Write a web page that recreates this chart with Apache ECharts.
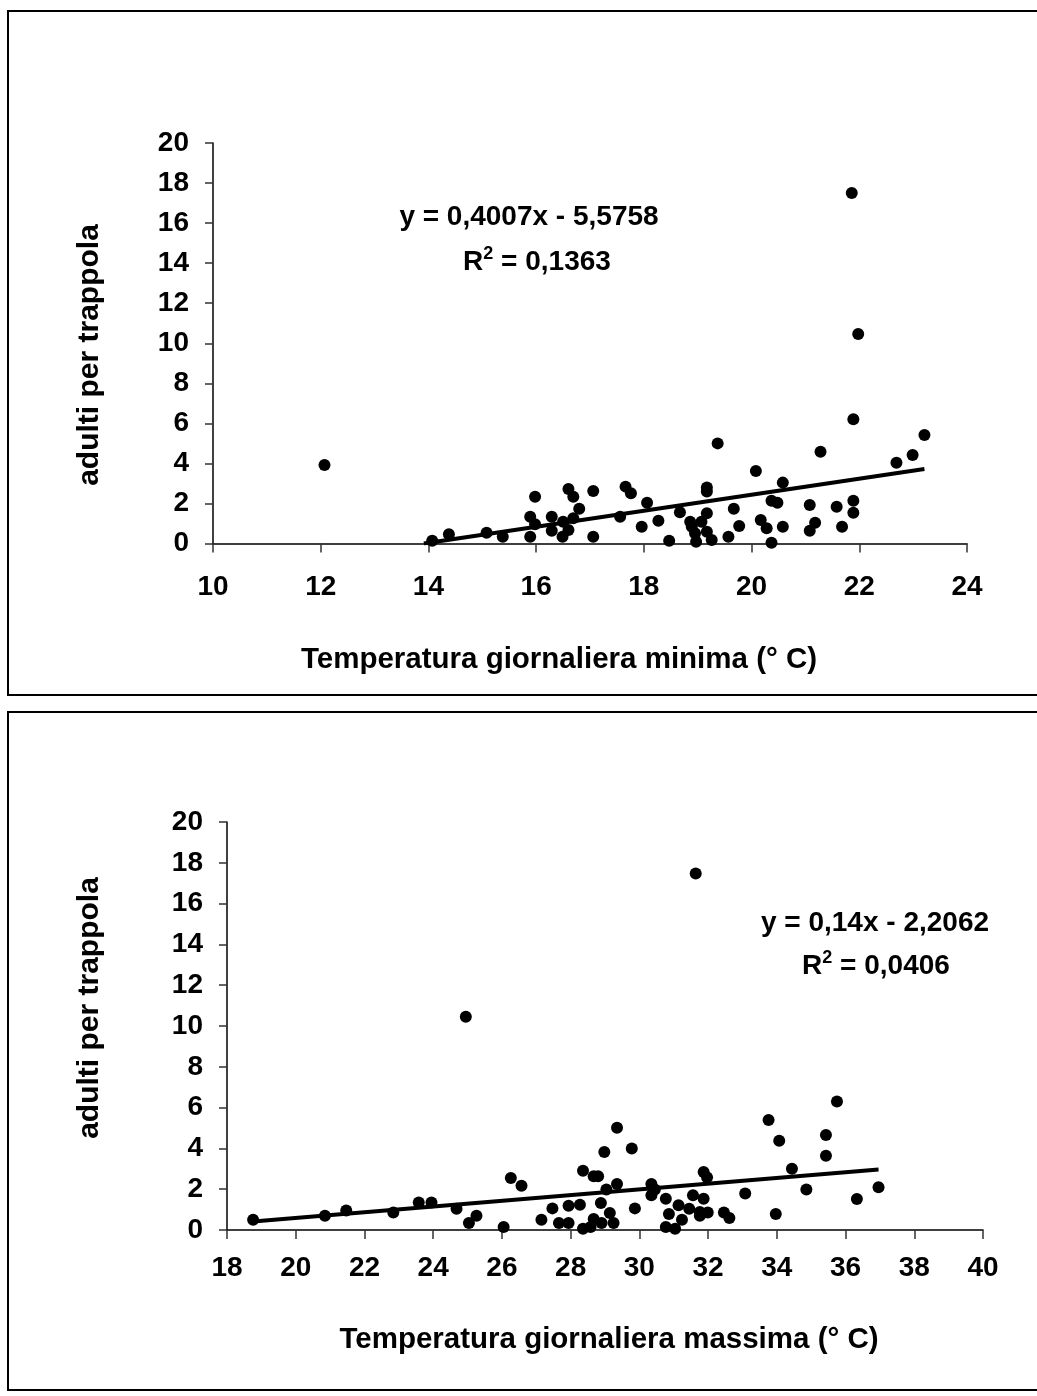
<!DOCTYPE html>
<html>
<head>
<meta charset="utf-8">
<script src="https://cdn.jsdelivr.net/npm/echarts@6/dist/echarts.min.js"></script>
<style>
html,body{margin:0;padding:0;background:#fff;}
#c{width:1037px;height:1396px;}
</style>
</head>
<body>
<div id="c"></div>
<script>
// ---- data ----
const minTemp = [12.07,14.07,14.38,15.08,15.38,15.89,15.89,15.98,15.98,16.29,16.29,16.49,16.50,16.60,16.60,16.69,16.69,16.80,17.06,17.06,17.56,17.66,17.76,17.96,18.06,18.27,18.47,18.67,18.86,18.89,18.95,18.97,19.07,19.17,19.17,19.17,19.17,19.26,19.37,19.57,19.67,19.77,20.08,20.17,20.28,20.37,20.37,20.48,20.58,20.58,21.08,21.08,21.18,21.28,21.58,21.68,21.86,21.89,21.89,21.89,21.98,22.69,22.99,23.21];
const minAdults = [3.92,0.14,0.46,0.54,0.34,0.34,1.34,2.34,0.96,1.34,0.64,0.34,1.09,0.67,2.72,2.34,1.26,1.74,2.62,0.34,1.34,2.84,2.51,0.84,2.04,1.14,0.14,1.56,1.09,0.84,0.51,0.09,1.09,2.80,2.60,1.51,0.59,0.17,5.00,0.34,1.74,0.87,3.62,1.17,0.76,2.14,0.04,2.04,3.04,0.84,1.92,0.64,1.04,4.58,1.84,0.84,17.50,6.20,2.14,1.54,10.46,4.03,4.42,5.42];

const maxTemp = [18.76,20.85,21.47,22.84,23.58,23.95,24.68,24.95,25.04,25.26,26.05,26.26,26.57,27.15,27.47,27.66,27.94,27.94,28.27,28.36,28.36,28.58,28.67,28.67,28.80,28.90,28.88,28.98,29.04,29.14,29.25,29.35,29.35,29.78,29.87,30.35,30.35,30.45,30.77,30.77,30.86,31.04,31.14,31.24,31.45,31.56,31.64,31.76,31.76,31.87,31.97,31.87,31.99,32.46,32.62,33.08,33.76,33.97,34.07,34.44,34.86,35.43,35.43,35.75,36.33,36.96];
const maxAdults = [0.50,0.70,0.96,0.86,1.35,1.35,1.04,10.45,0.34,0.70,0.15,2.55,2.17,0.50,1.06,0.34,0.34,1.19,1.24,2.91,0.06,0.15,0.54,2.63,2.63,0.34,1.32,3.82,1.98,0.83,0.34,5.01,2.25,4.00,1.06,2.25,1.70,1.98,1.53,0.15,0.78,0.06,1.21,0.50,1.04,1.70,17.47,0.88,0.70,2.84,2.58,1.53,0.86,0.86,0.59,1.79,5.39,0.78,4.38,3.00,1.98,4.66,3.64,6.30,1.52,2.09];

// trend lines (slope, intercept) as given in the chart
const minTrend = [0.4007, -5.5758];
const maxTrend = [0.14, -2.2062];

const xTicksMin = [10, 24, 2];
const xTicksMax = [18, 40, 2];
const yTicks = [0, 20, 2];

const yTitle = 'adulti per trappola';
const xTitleMin = 'Temperatura giornaliera minima (° C)';
const xTitleMax = 'Temperatura giornaliera massima (° C)';
const eqMin = ['y = 0,4007x - 5,5758', '0,1363'];
const eqMax = ['y = 0,14x - 2,2062', '0,0406'];

// ---- build ----
function pairs(xs, ys){ return xs.map((x,i)=>[x, ys[i]]); }
function trend(xs, t){
  let x0 = Math.min(...xs), x1 = Math.max(...xs);
  const xz = -t[1]/t[0];
  if (x0 < xz) x0 = xz;
  return [[x0, t[0]*x0+t[1]], [x1, t[0]*x1+t[1]]];
}

const FONT = '"Liberation Sans", Arial, sans-serif';
const lbl = {fontFamily: FONT, fontWeight: 'bold', fontSize: 28, color: '#000'};

function xAx(idx, t, margin){
  return {
    type: 'value', gridIndex: idx, min: t[0], max: t[1], interval: t[2],
    splitLine: {show: false},
    axisLine: {show: true, onZero: false, lineStyle: {color: '#000', width: 1.5}},
    axisTick: {show: true, inside: false, length: 9, lineStyle: {color: '#333', width: 1.5}},
    axisLabel: Object.assign({margin: margin}, lbl)
  };
}
function yAx(idx, t){
  return {
    type: 'value', gridIndex: idx, min: t[0], max: t[1], interval: t[2],
    splitLine: {show: false},
    axisLine: {show: true, onZero: false, lineStyle: {color: '#000', width: 1.5}},
    axisTick: {show: true, inside: false, length: 8, lineStyle: {color: '#333', width: 1.5}},
    axisLabel: Object.assign({margin: 24}, lbl)
  };
}

const chart = echarts.init(document.getElementById('c'), null, {renderer: 'canvas'});
const rich = {
  b: {fontFamily: FONT, fontWeight: 'bold', fontSize: 28, color: '#000'},
  s: {fontFamily: FONT, fontWeight: 'bold', fontSize: 18, color: '#000', verticalAlign: 'top', padding: [0,0,16,0]}
};
function txt(x, y, s, rot, size){
  return {
    type: 'text', x: x, y: y, rotation: rot || 0,
    style: {text: s, fontFamily: FONT, fontWeight: 'bold', fontSize: size || 28, fill: '#000', align: 'center', verticalAlign: 'middle'}
  };
}
const dot = {color: '#000', opacity: 1};

chart.setOption({
  animation: false,
  backgroundColor: '#fff',
  grid: [
    {left: 213, top: 143, width: 754, height: 400.5},
    {left: 227, top: 822, width: 756, height: 408}
  ],
  xAxis: [xAx(0, xTicksMin, 30), xAx(1, xTicksMax, 24)],
  yAxis: [yAx(0, yTicks), yAx(1, yTicks)],
  series: [
    {type: 'line', xAxisIndex: 0, yAxisIndex: 0, data: trend(minTemp, minTrend), symbol: 'none',
     lineStyle: {color: '#000', width: 4}, z: 2},
    {type: 'scatter', xAxisIndex: 0, yAxisIndex: 0, data: pairs(minTemp, minAdults), symbol: 'circle', symbolSize: 12,
     itemStyle: dot, z: 3},
    {type: 'line', xAxisIndex: 1, yAxisIndex: 1, data: trend(maxTemp, maxTrend), symbol: 'none',
     lineStyle: {color: '#000', width: 4}, z: 2},
    {type: 'scatter', xAxisIndex: 1, yAxisIndex: 1, data: pairs(maxTemp, maxAdults), symbol: 'circle', symbolSize: 12,
     itemStyle: dot, z: 3}
  ],
  graphic: [
    {type: 'rect', shape: {x: 8, y: 11, width: 1040, height: 684}, style: {fill: 'none', stroke: '#000', lineWidth: 2}, z: 0},
    {type: 'rect', shape: {x: 8, y: 712, width: 1040, height: 678}, style: {fill: 'none', stroke: '#000', lineWidth: 2}, z: 0},
    txt(90, 355, yTitle, Math.PI/2, 30),
    txt(90, 1008, yTitle, Math.PI/2, 30),
    txt(559, 660, xTitleMin, 0, 29.5),
    txt(609, 1340, xTitleMax, 0, 29.5),
    txt(529, 217, eqMin[0]),
    {type: 'text', x: 537, y: 262, style: {text: '{b|R}{s|2}{b| = ' + eqMin[1] + '}', rich: rich, align: 'center', verticalAlign: 'middle'}},
    txt(875, 923, eqMax[0]),
    {type: 'text', x: 876, y: 966, style: {text: '{b|R}{s|2}{b| = ' + eqMax[1] + '}', rich: rich, align: 'center', verticalAlign: 'middle'}}
  ]
});
</script>
</body>
</html>
